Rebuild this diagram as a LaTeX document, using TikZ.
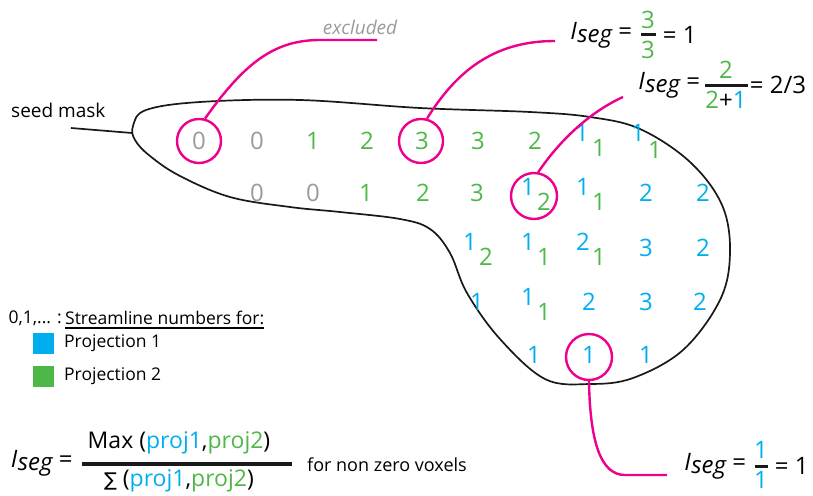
\documentclass[tikz,border=0pt]{standalone}
\usepackage{fontspec}
\setmainfont{Open Sans}
\newfontfamily\djv{DejaVu Sans}
\usetikzlibrary{calc}
\definecolor{cblue}{HTML}{00AEEF}
\definecolor{cgreen}{HTML}{4DB848}
\definecolor{cgray}{HTML}{9A9A9A}
\definecolor{cmag}{HTML}{EC008C}
\newcommand\isegtxt{\textit{I\kern0.5pt\raisebox{-3pt}{seg}}}
\tikzset{
  dg/.style={inner sep=0pt, font=\fontsize{24}{24}\selectfont},
  dgray/.style={dg, text=cgray},
  dgreen/.style={dg, text=cgreen},
  dblue/.style={dg, text=cblue},
  magcirc/.style={circle, draw=cmag, line width=2.4pt, inner sep=0pt, minimum size=#1},
  magline/.style={draw=cmag, line width=2.4pt},
  lbl/.style={inner sep=0pt, font=\fontsize{24}{24}\selectfont},
  small/.style={inner sep=0pt, font=\fontsize{17.5}{17.5}\selectfont},
  fbar/.style={fill=black!90, inner sep=0pt, minimum height=#1},
}
\begin{document}
\begin{tikzpicture}[x=1pt,y=-1pt]
\useasboundingbox (0,0) rectangle (813,495);
% blob
\draw[line width=1.7pt, black!90] plot[smooth cycle, tension=0.6] coordinates {
 (133,126) (146,110) (200,102) (300,100) (420,108) (530,112) (590,117) (640,129)
 (690,162) (722,205) (730,253) (720,300) (683,350) (633,378) (590,384) (545,379)
 (500,339) (467,293) (450,253) (430,229) (400,219) (340,212) (290,207) (230,197)
 (180,176) (150,156) (135,140)};
\coordinate (tip) at (132,133);
\coordinate (sm) at (71,128);
\node[inner sep=0pt, font=\fontsize{19}{19}\selectfont, anchor=west] (seedmask) at (11,110) {seed mask};
\draw[line width=1.7pt, black!90] (sm) -- (tip);
% row 1
\node[dgray]  (a1) at (199,141) {0};
\node[dgray]  (a2) at (257,141) {0};
\node[dgreen] (a3) at (313,141) {1};
\node[dgreen] (a4) at (367,141) {2};
\node[dgreen] (a5) at (422,141) {3};
\node[dgreen] (a6) at (478,141) {3};
\node[dgreen] (a7) at (535,141) {2};
\node[dblue]  (a8) at (582,133) {1};
\node[dgreen] (a8g) at (599,148) {1};
\node[dblue]  (a9) at (638,133) {1};
\node[dgreen] (a9g) at (655,150) {1};
% row 2
\node[dgray]  (b1) at (257,193) {0};
\node[dgray]  (b2) at (313,193) {0};
\node[dgreen] (b3) at (366,193) {1};
\node[dgreen] (b4) at (423,193) {2};
\node[dgreen] (b5) at (477,193) {3};
\node[dblue]  (b6) at (528,187) {1};
\node[dgreen] (b6g) at (544,202) {2};
\node[dblue]  (b7) at (583,187) {1};
\node[dgreen] (b7g) at (599,202) {1};
\node[dblue]  (b8) at (646,193) {2};
\node[dblue]  (b9) at (703,193) {2};
% row 3
\node[dblue]  (c1) at (470,242) {1};
\node[dgreen] (c1g) at (486,257) {2};
\node[dblue]  (c2) at (528,242) {1};
\node[dgreen] (c2g) at (544,257) {1};
\node[dblue]  (c3) at (583,242) {2};
\node[dgreen] (c3g) at (599,257) {1};
\node[dblue]  (c4) at (646,248) {3};
\node[dblue]  (c5) at (703,248) {2};
% row 4
\node[dblue]  (d1) at (477,302) {1};
\node[dblue]  (d2) at (528,297) {1};
\node[dgreen] (d2g) at (544,312) {1};
\node[dblue]  (d3) at (589,302) {2};
\node[dblue]  (d4) at (646,302) {3};
\node[dblue]  (d5) at (700,302) {2};
% row 5
\node[dblue]  (e1) at (534,355) {1};
\node[dblue]  (e2) at (589,355) {1};
\node[dblue]  (e3) at (646,355) {1};
% circles
\node[magcirc=44pt] (k0) at (199,141) {};
\node[magcirc=44pt] (k3) at (421,141) {};
\node[magcirc=46pt] (k12) at (534,196) {};
\node[magcirc=46pt] (k1) at (589,357) {};
% callout ends
\coordinate (x1) at (377,40);
\coordinate (x2) at (555,41);
\coordinate (x3) at (623,97);
\coordinate (x4) at (667,475);
\draw[magline] (k0.75) .. controls (245,62) and (275,40) .. (320,40) -- (x1);
\draw[magline] (k3.75) .. controls (460,65) and (500,41) .. (x2);
\draw[magline] (k12.80) .. controls (560,140) and (590,112) .. (x3);
\draw[magline] (k1.south) .. controls (590,440) and (600,475) .. (625,475) -- (x4);
% excluded
\node[inner sep=0pt, font=\fontsize{19}{19}\selectfont\itshape, text=cgray] (excl) at (360,27) {excluded};
% label 1
\node[fbar=3pt, minimum width=15pt] (l1bar) at (648,35) {};
\node[lbl, text=cgreen] (l1n) at (648,20) {3};
\node[lbl, text=cgreen] (l1d) at (648,50) {3};
\node[lbl, anchor=east] (l1a) at ($(l1bar.west)+(-8,0)$) {\isegtxt\ =};
\node[lbl, anchor=west] (l1b) at ($(l1bar.east)+(7,0)$) {= 1};
% label 2
\node[fbar=3pt, minimum width=43pt] (l2bar) at (726,85) {};
\node[lbl, text=cgreen] (l2n) at (726,70) {2};
\node[lbl] (l2d) at (726,100) {\textcolor{cgreen}{2}+\textcolor{cblue}{1}};
\node[lbl, anchor=east] (l2a) at ($(l2bar.west)+(-4,0)$) {\isegtxt\ =};
\node[lbl, anchor=west] (l2b) at ($(l2bar.east)+(2,0)$) {= 2/3};
% label 3
\node[fbar=3pt, minimum width=13pt] (l3bar) at (761,466) {};
\node[lbl, text=cblue] (l3n) at (761,450) {1};
\node[lbl, text=cblue] (l3d) at (761,480) {1};
\node[lbl, anchor=east] (l3a) at ($(l3bar.west)+(-8,0)$) {\isegtxt\ =};
\node[lbl, anchor=west] (l3b) at ($(l3bar.east)+(7,0)$) {= 1};
% legend
\node[small, anchor=east] (lg0) at (62,318) {0,1,... :};
\node[small, anchor=west] (lg1) at (65,318) {Streamline numbers for:};
\draw[line width=1.8pt] (lg1.south west) ++(0,3) -- ($(lg1.south east)+(0,3)$);
\node[fill=cblue, minimum size=21pt, inner sep=0pt] (sq1) at (43.5,343) {};
\node[fill=cgreen, minimum size=21pt, inner sep=0pt] (sq2) at (43.5,376) {};
\node[small, anchor=west] (p1) at (64,343) {Projection 1};
\node[small, anchor=west] (p2) at (64,376) {Projection 2};
% bottom formula
\node[fbar=4pt, minimum width=210pt] (fbar0) at (187,464) {};
\node[lbl, font=\fontsize{23}{23}\selectfont] (fn) at (179,443) {Max (\textcolor{cblue}{proj1},\textcolor{cgreen}{proj2})};
\node[lbl, font=\fontsize{23}{23}\selectfont] (fd) at (179,481) {{\djv\fontsize{19}{19}\selectfont ∑} (\textcolor{cblue}{proj1},\textcolor{cgreen}{proj2})};
\node[lbl, anchor=east] (fa) at ($(fbar0.west)+(-9,-1)$) {\isegtxt\ =};
\node[inner sep=0pt, font=\fontsize{18}{18}\selectfont, anchor=west] (fv) at (307,465) {for non zero voxels};
\end{tikzpicture}
\end{document}
